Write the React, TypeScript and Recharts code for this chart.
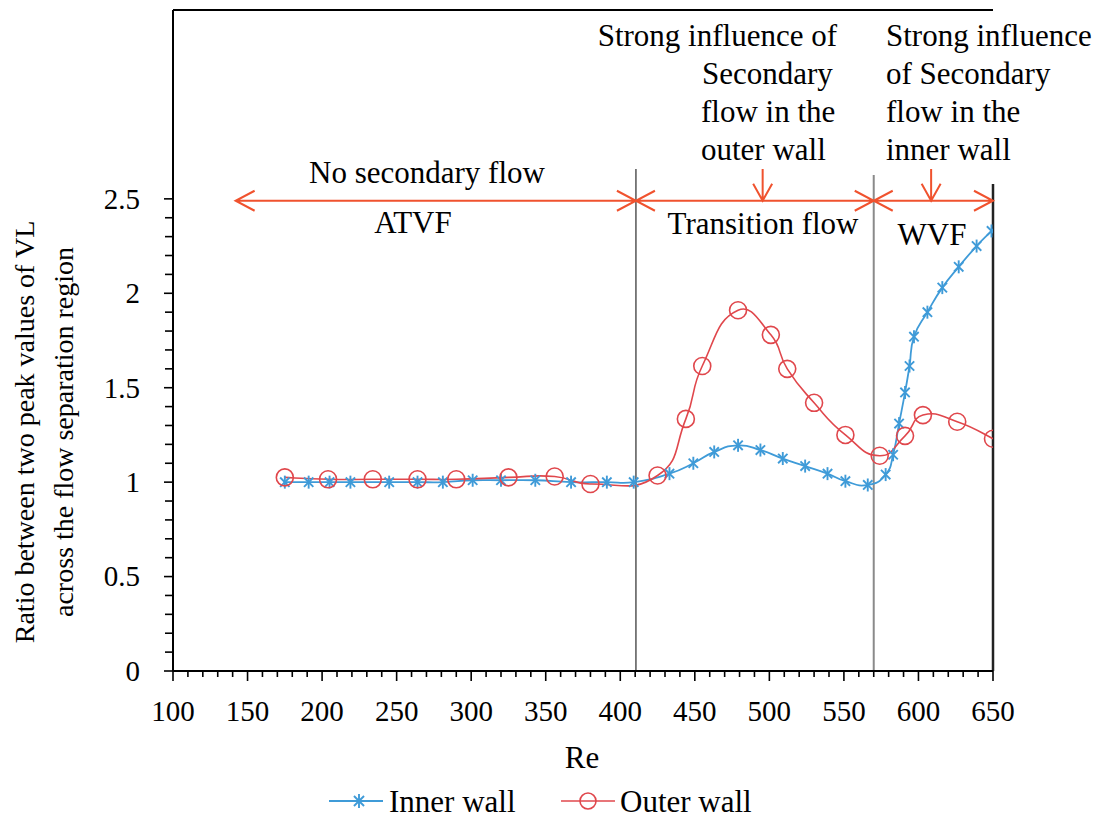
import React from "react";
import { LineChart, Line, XAxis, YAxis, ReferenceLine, Customized } from "recharts";

// Inner wall: ratio of the two VL peaks vs Re
const INNER_RE = [
  175, 191, 205, 219, 245, 264, 281, 301, 320, 343, 367, 391, 409, 433, 449, 463, 479,
  494, 509, 524, 539, 551, 566, 578, 583, 587, 591, 594, 597, 606, 616, 627, 639, 649,
];
const INNER_RATIO = [
  1.0, 1.0, 1.0, 1.0, 1.0, 1.0, 1.0, 1.01, 1.01, 1.01, 1.0, 1.0, 1.0, 1.045, 1.1, 1.16, 1.195,
  1.17, 1.125, 1.085, 1.045, 1.005, 0.985, 1.04, 1.145, 1.31, 1.475, 1.615, 1.77, 1.9, 2.03, 2.14, 2.25, 2.33,
];

// Outer wall
const OUTER_RE = [175, 204, 234, 264, 290, 325, 356, 380, 425, 444, 455, 479, 501, 512, 530, 551, 574, 591, 603, 626, 650];
const OUTER_RATIO = [
  1.025, 1.015, 1.015, 1.015, 1.015, 1.025, 1.03, 0.99, 1.035, 1.335, 1.615, 1.91, 1.78, 1.6, 1.42, 1.25,
  1.14, 1.245, 1.355, 1.32, 1.23,
];

// flow regime boundaries (Re) and annotation extents
const REGIME_BOUNDS = [410.5, 570, 650];
const ARROW_START_RE = 142;
const ARROW_LEVEL = 2.49;
const DOWN_ARROW_RE = [495.5, 608.5];

const X_MAJOR = [100, 150, 200, 250, 300, 350, 400, 450, 500, 550, 600, 650];
const Y_MAJOR = ["0", "0.5", "1", "1.5", "2", "2.5"];

const X_TICKS = Array.from({ length: 56 }, (_, i) => 100 + i * 10);
const Y_TICKS = Array.from({ length: 26 }, (_, i) => i / 10);

const innerData = INNER_RE.map((re, i) => ({ re, ratio: INNER_RATIO[i] }));
const outerData = OUTER_RE.map((re, i) => ({ re, ratio: OUTER_RATIO[i] }));

const BLUE = "#3f9bd8";
const RED = "#e0474c";
const ORANGE = "#f0522e";
const FONT = '"Liberation Serif", "Times New Roman", serif';

const X_MARGIN = 29;
const Y_MARGIN = 33;

// Excel-like smoothing: cubic bezier with chord-length weighted tangents
const TENSION = 0.5;
const smoothCurve = (context: any) => {
  let pts: number[][] = [];
  const dist = (a: number[], b: number[]) => Math.hypot(b[0] - a[0], b[1] - a[1]);
  return {
    areaStart() {},
    areaEnd() {},
    lineStart() {
      pts = [];
    },
    point(x: number, y: number) {
      pts.push([+x, +y]);
    },
    lineEnd() {
      const n = pts.length;
      if (!n) return;
      context.moveTo(pts[0][0], pts[0][1]);
      for (let i = 0; i < n - 1; i++) {
        const p0 = pts[Math.max(i - 1, 0)];
        const p1 = pts[i];
        const p2 = pts[i + 1];
        const p3 = pts[Math.min(i + 2, n - 1)];
        const d01 = dist(p0, p1);
        const d12 = dist(p1, p2);
        const d23 = dist(p2, p3);
        const a = d01 + d12 > 0 ? (TENSION * d12) / (d01 + d12) : 0;
        const b = d12 + d23 > 0 ? (TENSION * d12) / (d12 + d23) : 0;
        const sa = i === 0 ? 0.5 : 1;
        const sb = i === n - 2 ? 0.5 : 1;
        context.bezierCurveTo(
          p1[0] + (p2[0] - p0[0]) * a * sa,
          p1[1] + (p2[1] - p0[1]) * a * sa,
          p2[0] - (p3[0] - p1[0]) * b * sb,
          p2[1] - (p3[1] - p1[1]) * b * sb,
          p2[0],
          p2[1]
        );
      }
    },
  };
};

const Asterisk = ({ cx, cy, color, size = 6.5 }: any) => {
  const d = size * 0.72;
  return (
    <g stroke={color} strokeWidth={1.9}>
      <line x1={cx} y1={cy - size} x2={cx} y2={cy + size} />
      <line x1={cx - d} y1={cy - d} x2={cx + d} y2={cy + d} />
      <line x1={cx - d} y1={cy + d} x2={cx + d} y2={cy - d} />
    </g>
  );
};

const XTick = ({ x, y, payload }: any) => {
  const v = payload.value;
  const major = X_MAJOR.includes(v);
  return (
    <g>
      <line x1={x} x2={x} y1={y - X_MARGIN} y2={y - X_MARGIN + (major ? 10 : 6)} stroke="#000" strokeWidth={1.6} />
      {major && (
        <text x={x} y={y} dy="0.71em" textAnchor="middle" fontSize={29} fontFamily={FONT} fill="#000">
          {v}
        </text>
      )}
    </g>
  );
};

const YTick = ({ x, y, payload }: any) => {
  const label = String(payload.value);
  const major = Y_MAJOR.includes(label);
  return (
    <g>
      <line x1={x + Y_MARGIN} x2={x + Y_MARGIN - (major ? 9 : 8)} y1={y} y2={y} stroke="#000" strokeWidth={1.6} />
      {major && (
        <text x={x} y={y} dy="0.34em" textAnchor="end" fontSize={29} fontFamily={FONT} fill="#000">
          {label}
        </text>
      )}
    </g>
  );
};

// line with open chevron heads, drawn in pixel space from the reference line end points
const arrowShape = (heads: string[], head = 19, half = 10) => (p: any) => {
  const { x1, y1, x2, y2 } = p;
  const len = Math.hypot(x2 - x1, y2 - y1) || 1;
  const ux = (x2 - x1) / len;
  const uy = (y2 - y1) / len;
  const nx = -uy;
  const ny = ux;
  const chevron = (tx: number, ty: number, dx: number, dy: number) =>
    `M${tx - dx * head + nx * half},${ty - dy * head + ny * half} L${tx},${ty} L${tx - dx * head - nx * half},${
      ty - dy * head - ny * half
    }`;
  let d = `M${x1},${y1} L${x2},${y2}`;
  if (heads.includes("start")) d += " " + chevron(x1, y1, -ux, -uy);
  if (heads.includes("end")) d += " " + chevron(x2, y2, ux, uy);
  return <path d={d} stroke={ORANGE} strokeWidth={2} fill="none" />;
};

const Annotations = () => {
  const t = { fontFamily: FONT, fontSize: 31, fill: "#000" };
  return (
    <g>
      <text {...t} x={419} y={175} textAnchor="middle">No secondary flow</text>
      <text {...t} x={405} y={225} textAnchor="middle">ATVF</text>
      <text {...t} x={755} y={226} textAnchor="middle">Transition flow</text>
      <text {...t} x={924} y={237} textAnchor="middle">WVF</text>

      <text {...t} x={829} y={38} textAnchor="end">Strong influence of</text>
      <text {...t} x={694} y={76}>Secondary</text>
      <text {...t} x={693} y={114}>flow in the</text>
      <text {...t} x={693} y={152}>outer wall</text>

      <text {...t} x={878} y={38}>Strong influence</text>
      <text {...t} x={878} y={76}>of Secondary</text>
      <text {...t} x={878} y={114}>flow in the</text>
      <text {...t} x={878} y={152}>inner wall</text>

      <text {...t} x={574} y={760} textAnchor="middle">Re</text>

      <g transform="translate(26,424) rotate(-90)">
        <text fontFamily={FONT} fontSize={28} fill="#000" textAnchor="middle" y={0}>
          Ratio between two peak values of VL
        </text>
        <text fontFamily={FONT} fontSize={28} fill="#000" textAnchor="middle" y={39}>
          across the flow separation region
        </text>
      </g>

      {/* legend */}
      <line x1={321} x2={375} y1={793} y2={793} stroke={BLUE} strokeWidth={1.8} />
      <Asterisk cx={351} cy={793} color={BLUE} size={7} />
      <text {...t} x={381} y={804}>Inner wall</text>
      <line x1={553} x2={607} y1={793} y2={793} stroke={RED} strokeWidth={1.6} />
      <circle cx={580} cy={793} r={8} stroke={RED} strokeWidth={1.6} fill="none" />
      <text {...t} x={612} y={804}>Outer wall</text>
    </g>
  );
};

export default function App() {
  return (
    <div style={{ fontFamily: FONT, width: 1093, height: 812 }}>
      <LineChart width={1093} height={812} margin={{ top: 2, right: 108, left: 105, bottom: 119 }}>
        <XAxis
          dataKey="re"
          type="number"
          domain={[100, 650]}
          ticks={X_TICKS}
          interval={0}
          tick={<XTick />}
          tickLine={false}
          tickSize={0}
          tickMargin={X_MARGIN}
          axisLine={{ stroke: "#000", strokeWidth: 2 }}
          allowDataOverflow
        />
        <YAxis
          type="number"
          domain={[0, 3.5]}
          ticks={Y_TICKS}
          interval={0}
          width={60}
          tick={<YTick />}
          tickLine={false}
          tickSize={0}
          tickMargin={Y_MARGIN}
          axisLine={{ stroke: "#000", strokeWidth: 2 }}
          allowDataOverflow
        />

        {/* top frame */}
        <ReferenceLine y={3.5} stroke="#000" strokeWidth={2} ifOverflow="visible" />

        {/* regime boundaries */}
        <ReferenceLine segment={[{ x: REGIME_BOUNDS[0], y: 0 }, { x: REGIME_BOUNDS[0], y: 2.658 }]} stroke="#555" strokeWidth={1.5} />
        <ReferenceLine segment={[{ x: REGIME_BOUNDS[1], y: 0 }, { x: REGIME_BOUNDS[1], y: 2.626 }]} stroke="#8a8a8a" strokeWidth={2} />
        <ReferenceLine segment={[{ x: REGIME_BOUNDS[2], y: 0 }, { x: REGIME_BOUNDS[2], y: 2.579 }]} stroke="#222" strokeWidth={2.5} ifOverflow="visible" />

        {/* regime arrows */}
        <ReferenceLine
          segment={[{ x: ARROW_START_RE, y: ARROW_LEVEL }, { x: REGIME_BOUNDS[0], y: ARROW_LEVEL }]}
          shape={arrowShape(["start", "end"])}
        />
        <ReferenceLine
          segment={[{ x: REGIME_BOUNDS[0], y: ARROW_LEVEL }, { x: REGIME_BOUNDS[1], y: ARROW_LEVEL }]}
          shape={arrowShape(["start", "end"])}
        />
        <ReferenceLine
          segment={[{ x: REGIME_BOUNDS[1], y: ARROW_LEVEL }, { x: REGIME_BOUNDS[2], y: ARROW_LEVEL }]}
          shape={arrowShape(["start", "end"])}
          ifOverflow="visible"
        />
        {DOWN_ARROW_RE.map((re) => (
          <ReferenceLine
            key={re}
            segment={[{ x: re, y: 2.658 }, { x: re, y: ARROW_LEVEL }]}
            shape={arrowShape(["end"], 17, 9.5)}
          />
        ))}

        <Line
          data={innerData}
          dataKey="ratio"
          type={smoothCurve as any}
          stroke={BLUE}
          strokeWidth={1.8}
          isAnimationActive={false}
          dot={(p: any) => <Asterisk key={`in-${p.index}`} cx={p.cx} cy={p.cy} color={BLUE} />}
          activeDot={false}
        />
        <Line
          data={outerData}
          dataKey="ratio"
          type={smoothCurve as any}
          stroke={RED}
          strokeWidth={1.6}
          isAnimationActive={false}
          dot={(p: any) => (
            <circle key={`out-${p.index}`} cx={p.cx} cy={p.cy} r={8.5} stroke={RED} strokeWidth={1.6} fill="none" />
          )}
          activeDot={false}
        />

        <Customized component={Annotations} />
      </LineChart>
    </div>
  );
}
